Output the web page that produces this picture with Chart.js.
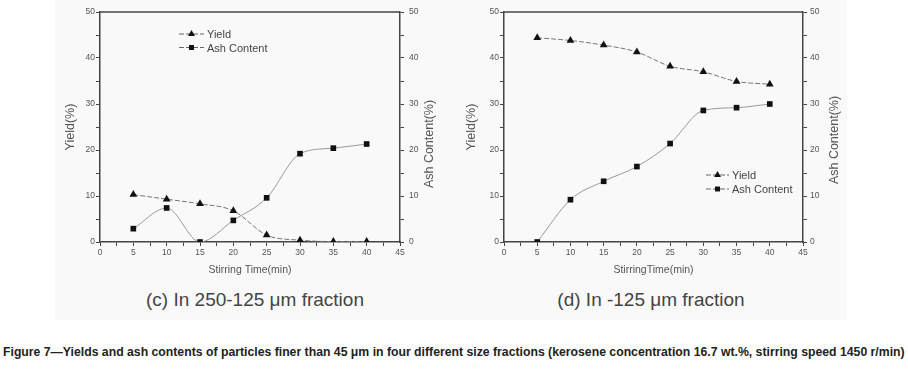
<!DOCTYPE html>
<html>
<head>
<meta charset="utf-8">
<script src="https://cdn.jsdelivr.net/npm/chart.js@4.4.1/dist/chart.umd.min.js"></script>
<style>
body { margin: 0; background: #fff; width: 908px; height: 375px; overflow: hidden; position: relative; font-family: "Liberation Sans", Arial, sans-serif; }
#painel { position: absolute; left: 55px; top: 0; width: 792px; height: 320px; background: #f9f9f9; }
.grafico { position: absolute; top: 0; }
.sub { position: absolute; top: 289px; font-size: 19px; color: #444; transform: translateX(-50%); white-space: nowrap; line-height: 22px; }
#legenda { position: absolute; left: 3px; top: 345px; font-weight: bold; font-size: 12.5px; color: #222; white-space: nowrap; transform-origin: left top; line-height: 15px; }
</style>
</head>
<body>
<div id="painel"></div>
<canvas id="graficoC" class="grafico" width="454" height="285" style="left:0"></canvas>
<canvas id="graficoD" class="grafico" width="454" height="285" style="left:454px"></canvas>
<div class="sub" style="left:255px">(c) In 250-125 μm fraction</div>
<div class="sub" style="left:651px">(d) In -125 μm fraction</div>
<div id="legenda">Figure 7—Yields and ash contents of particles finer than 45 μm in four different size fractions (kerosene concentration 16.7 wt.%, stirring speed 1450 r/min)</div>
<script>
// dados
const tempos = [5, 10, 15, 20, 25, 30, 35, 40];
const yieldC = [10.3, 9.3, 8.3, 6.8, 1.5, 0.4, 0.1, 0.1];
const ashC = [2.9, 7.4, 0, 4.7, 9.6, 19.2, 20.4, 21.3];
const yieldD = [44.4, 43.8, 42.8, 41.3, 38.2, 37.0, 34.9, 34.3];
const ashD = [0, 9.2, 13.2, 16.4, 21.4, 28.6, 29.2, 30.0];
const xLabels = [0, 5, 10, 15, 20, 25, 30, 35, 40, 45];
const yLabels = [0, 10, 20, 30, 40, 50];

const corEixo = '#444';
const corTexto = '#555';

// moldura de cima, titulo do eixo direito e legenda
const extras = {
    id: 'extras',
    afterDraw(chart, args, opts) {
        const ctx = chart.ctx;
        const area = chart.chartArea;
        ctx.save();
        ctx.strokeStyle = corEixo;
        ctx.lineWidth = 1.5;
        ctx.beginPath();
        ctx.moveTo(area.left, area.top);
        ctx.lineTo(area.right, area.top);
        ctx.stroke();

        ctx.fillStyle = corTexto;
        ctx.font = '12.5px "Liberation Sans", Arial, sans-serif';
        ctx.textAlign = 'center';
        ctx.textBaseline = 'middle';
        ctx.translate(opts.tituloX, opts.tituloY);
        ctx.rotate(-Math.PI / 2);
        ctx.fillText('Ash Content(%)', 0, 0);
        ctx.restore();

        chart.data.datasets.forEach((ds, i) => {
            const y = opts.legY + i * opts.legPasso;
            const x = opts.legX;
            ctx.save();
            ctx.strokeStyle = '#666';
            ctx.lineWidth = 1;
            ctx.setLineDash([5, 2]);
            ctx.beginPath();
            ctx.moveTo(x, y);
            ctx.lineTo(x + opts.legLargura, y);
            ctx.stroke();
            ctx.setLineDash([]);
            ctx.fillStyle = '#111';
            ctx.strokeStyle = '#111';
            Chart.helpers.drawPoint(ctx, { pointStyle: ds.pointStyle, radius: ds.pointRadius - 0.5, rotation: 0, borderWidth: 0 }, x + opts.legLargura / 2, y);
            ctx.fillStyle = '#444';
            ctx.font = '11px "Liberation Sans", Arial, sans-serif';
            ctx.textAlign = 'left';
            ctx.textBaseline = 'middle';
            ctx.fillText(ds.label, x + opts.legLargura + 3, y + 1);
            ctx.restore();
        });
    }
};

function serie(valores) {
    return tempos.map((t, i) => ({ x: t, y: valores[i] }));
}

function criarGrafico(id, yieldVals, ashVals, cfg) {
    const eixoY = (pos, largura, padding) => ({
        position: pos,
        min: 0,
        max: 50,
        border: { color: corEixo, width: 1.5 },
        grid: { drawOnChartArea: false, tickLength: 4, color: corEixo, lineWidth: 1 },
        ticks: {
            stepSize: 5,
            padding: padding,
            color: corTexto,
            font: { size: 8.5, family: '"Liberation Sans", Arial, sans-serif' },
            callback: v => yLabels.includes(v) ? v : ''
        },
        afterFit: s => { s.width = largura; }
    });

    const y = eixoY('left', cfg.esqLargura, 1);
    y.title = { display: true, text: 'Yield(%)', color: corTexto, font: { size: 12.5, family: '"Liberation Sans", Arial, sans-serif' }, padding: { top: cfg.tituloYPad, bottom: 0 } };
    const y2 = eixoY('right', cfg.dirLargura, cfg.dirPad);

    return new Chart(document.getElementById(id), {
        type: 'line',
        data: {
            datasets: [
                {
                    label: 'Yield',
                    data: serie(yieldVals),
                    borderColor: '#777',
                    borderWidth: 1,
                    borderDash: [5, 2],
                    pointStyle: 'triangle',
                    pointRadius: 4.5,
                    pointBackgroundColor: '#111',
                    pointBorderColor: '#111',
                    pointBorderWidth: 0,
                    cubicInterpolationMode: 'monotone',
                    yAxisID: 'y'
                },
                {
                    label: 'Ash Content',
                    data: serie(ashVals),
                    borderColor: '#999',
                    borderWidth: 1,
                    pointStyle: 'rect',
                    pointRadius: 4,
                    pointBackgroundColor: '#111',
                    pointBorderColor: '#111',
                    pointBorderWidth: 0,
                    cubicInterpolationMode: 'monotone',
                    yAxisID: 'y'
                }
            ]
        },
        options: {
            responsive: false,
            animation: false,
            layout: { padding: { left: 0, right: 0, top: 12, bottom: 0 } },
            plugins: {
                legend: { display: false },
                tooltip: { enabled: false },
                extras: cfg.extras
            },
            scales: {
                x: {
                    type: 'linear',
                    min: 0,
                    max: 45,
                    border: { color: corEixo, width: 1.5 },
                    grid: { drawOnChartArea: false, tickLength: 4, color: corEixo, lineWidth: 1 },
                    ticks: {
                        stepSize: 2.5,
                        autoSkip: false,
                        maxRotation: 0,
                        padding: 2,
                        color: corTexto,
                        font: { size: 8.5, family: '"Liberation Sans", Arial, sans-serif' },
                        callback: v => xLabels.includes(v) ? v : ''
                    },
                    title: { display: true, text: cfg.tituloX, color: corTexto, font: { size: 10.5, family: '"Liberation Sans", Arial, sans-serif' }, padding: { top: 0, bottom: 9 } },
                    afterFit: s => { s.height = 43; }
                },
                y: y,
                y2: y2
            }
        },
        plugins: [extras]
    });
}

criarGrafico('graficoC', yieldC, ashC, {
    esqLargura: 100, dirLargura: 54, dirPad: 5, tituloYPad: 63, tituloX: 'Stirring Time(min)',
    extras: { tituloX: 430, tituloY: 144, legX: 179, legY: 34, legPasso: 13.5, legLargura: 25 }
});

criarGrafico('graficoD', yieldD, ashD, {
    esqLargura: 50, dirLargura: 105, dirPad: 3, tituloYPad: 10, tituloX: 'StirringTime(min)',
    extras: { tituloX: 381, tituloY: 140, legX: 252, legY: 175, legPasso: 14, legLargura: 23 }
});

const leg = document.getElementById('legenda');
leg.style.transform = 'scaleX(' + (902 / leg.offsetWidth) + ')';
</script>
</body>
</html>
